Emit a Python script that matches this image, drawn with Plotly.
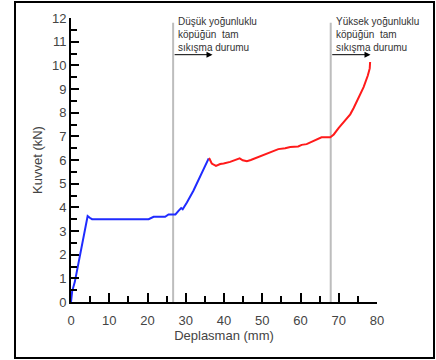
import plotly.graph_objects as go

# Blue segment (before/at low-density foam full compression)
blue_x = [0, 0.3, 1.0, 2.0, 3.0, 4.0, 4.35, 5.0, 5.5, 7, 10, 15, 20.3, 21.6, 24.6, 25.5, 27.3, 28.1, 28.8, 29.2, 30.3, 32.0, 33.8, 35.1, 36.0]
blue_y = [0, 0.45, 0.85, 1.7, 2.5, 3.35, 3.63, 3.55, 3.5, 3.5, 3.5, 3.5, 3.5, 3.6, 3.6, 3.7, 3.7, 3.85, 3.97, 3.92, 4.2, 4.7, 5.3, 5.76, 6.07]
# Red segment
red_x = [36.0, 36.2, 36.8, 37.9, 39.0, 39.9, 41.6, 42.9, 44.1, 44.9, 46.0, 47.0, 48.6, 50.3, 52.1, 54.2, 56.0, 57.3, 59.4, 60.3, 61.6, 63.3, 64.8, 65.5, 67.8, 68.7, 70.0, 71.3, 72.6, 73.0, 73.9, 75.2, 76.5, 77.6, 78.1, 78.2]
red_y = [6.07, 6.05, 5.85, 5.75, 5.83, 5.85, 5.92, 6.0, 6.07, 5.99, 5.95, 6.0, 6.1, 6.2, 6.34, 6.46, 6.5, 6.55, 6.57, 6.64, 6.67, 6.79, 6.93, 6.96, 6.96, 7.08, 7.36, 7.62, 7.9, 7.93, 8.2, 8.63, 9.08, 9.57, 9.87, 10.14]

# Reference lines and annotations
ref_x = [26.7, 67.9]
ref_top = 11.8
arrow_y = 10.45
arrow_end = [37.0, 78.3]
labels = ["Düşük yoğunluklu<br>köpüğün\u00a0 tam<br>sıkışma durumu",
          "Yüksek yoğunluklu<br>köpüğün\u00a0 tam<br>sıkışma durumu"]

x_title = "Deplasman (mm)"
y_title = "Kuvvet (kN)"

fig = go.Figure()
for rx in ref_x:
    fig.add_trace(go.Scatter(x=[rx, rx], y=[0, ref_top], mode="lines",
                             line=dict(color="#bdbdbd", width=2), hoverinfo="skip"))
fig.add_trace(go.Scatter(x=blue_x, y=blue_y, mode="lines",
                         line=dict(color="#1f2bff", width=2)))
fig.add_trace(go.Scatter(x=red_x, y=red_y, mode="lines",
                         line=dict(color="#ff1a1a", width=2)))

for rx, ex, lab in zip(ref_x, arrow_end, labels):
    fig.add_annotation(x=ex, y=arrow_y, ax=rx, ay=arrow_y, xref="x", yref="y",
                       axref="x", ayref="y", text="", showarrow=True,
                       arrowhead=2, arrowsize=1.2, arrowwidth=1, arrowcolor="black")
    fig.add_annotation(x=rx, y=ref_top, xref="x", yref="y", text=lab,
                       showarrow=False, xanchor="left", yanchor="top", align="left",
                       xshift=3, yshift=9,
                       font=dict(family="Liberation Sans, Arial", size=10, color="#333"))

L, R, T, B = 71, 59, 18, 58
W, H = 436, 360
pw, ph = W - L - R, H - T - B
fig.add_shape(type="rect", xref="paper", yref="paper",
              x0=(15 - L) / pw, x1=(434 - L) / pw,
              y0=(H - B - 358) / ph, y1=(H - B - 2) / ph,
              line=dict(color="black", width=2))

axis_font = dict(family="Liberation Sans, Arial", size=13, color="#444")
fig.update_layout(
    width=W, height=H, margin=dict(l=L, r=R, t=T, b=B),
    paper_bgcolor="white", plot_bgcolor="white", showlegend=False,
    xaxis=dict(range=[0, 80], dtick=10, tick0=0, showgrid=False, zeroline=False,
               showline=True, linecolor="black", linewidth=2,
               ticks="inside", ticklen=9, tickwidth=2, tickcolor="black",
               ticklabelstandoff=5,
               minor=dict(dtick=5, ticks="inside", ticklen=6, tickwidth=2, tickcolor="black"),
               tickfont=axis_font, title=dict(text=x_title, font=axis_font, standoff=3)),
    yaxis=dict(range=[0, 12], dtick=1, tick0=0, showgrid=False, zeroline=False,
               showline=True, linecolor="black", linewidth=2,
               ticks="inside", ticklen=8, tickwidth=2, tickcolor="black",
               minor=dict(dtick=0.5, ticks="inside", ticklen=6, tickwidth=2, tickcolor="black"),
               tickfont=axis_font, title=dict(text=y_title, font=axis_font, standoff=6)),
)
fig.write_html("out.html")
